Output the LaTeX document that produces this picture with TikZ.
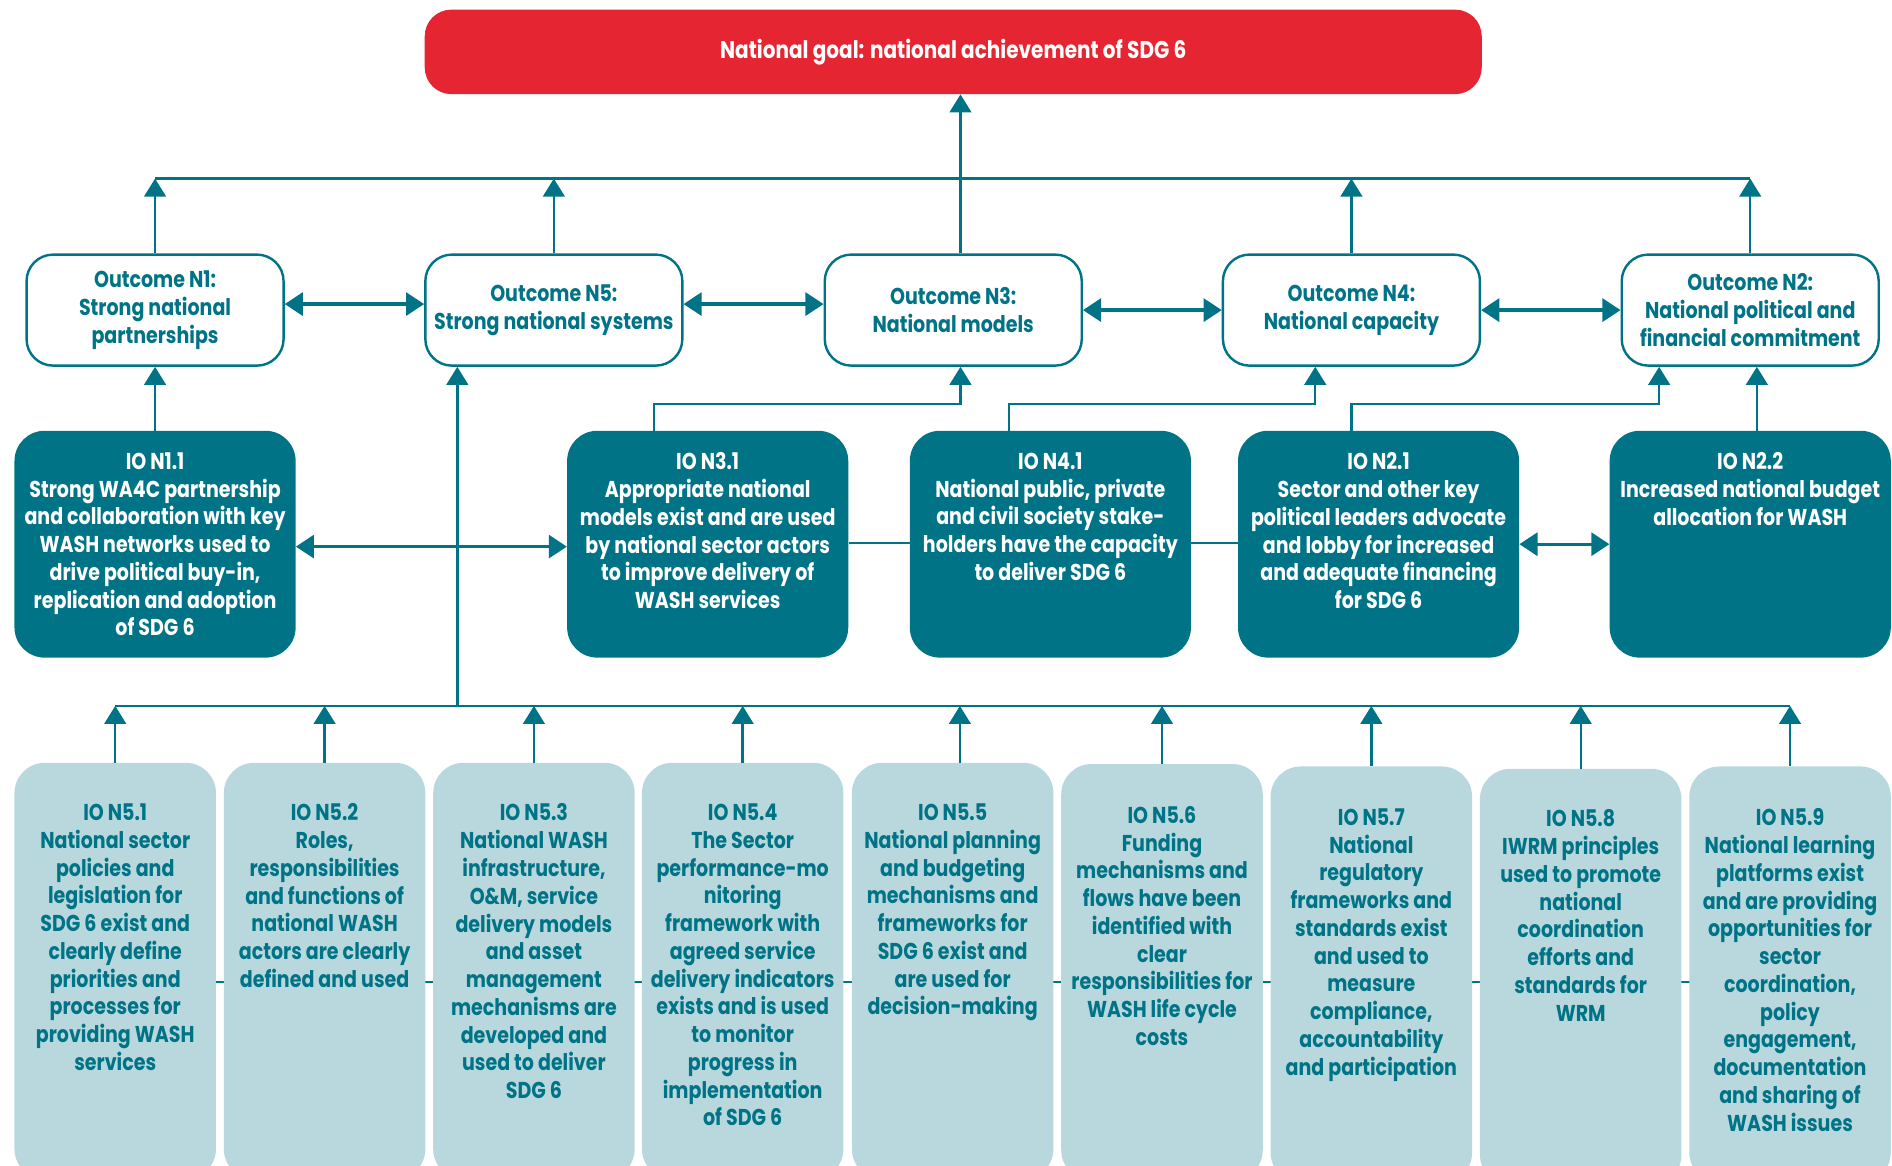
\documentclass[tikz,border=0pt]{standalone}
\usepackage{fontspec}
\setmainfont{Poppins}[FakeStretch=0.83]
\usetikzlibrary{arrows.meta,calc}
\definecolor{teal1}{HTML}{007486}
\definecolor{light1}{HTML}{B9D8DD}
\definecolor{red1}{HTML}{E52632}
\newcommand{\bodyfnt}{\fontsize{19}{23}\selectfont\bfseries}
\newcommand{\goalfnt}{\fontsize{20}{23}\selectfont\bfseries}
\tikzset{
  goalbox/.style={fill=red1, rounded corners=22pt, minimum width=876pt, minimum height=70pt, text=white, font=\goalfnt},
  outbox/.style={draw=teal1, line width=2pt, fill=white, rounded corners=22pt, minimum width=213pt, minimum height=92pt, text=teal1, align=center, font=\bodyfnt, inner sep=0pt},
  iobox/.style={fill=teal1, rounded corners=25pt, minimum width=233pt, minimum height=188pt},
  iotext/.style={text=white, align=center, anchor=north, inner sep=0pt, font=\bodyfnt},
  lbox/.style={fill=light1, rounded corners=25pt, minimum width=167pt, minimum height=345pt, anchor=north},
  ltext/.style={text=teal1, align=center, anchor=north, inner sep=0pt, font=\bodyfnt},
  conn/.style={draw=teal1, line width=2pt},
  arr/.style={conn, -{Triangle[length=15pt,width=18pt]}},
  darr/.style={draw=teal1, line width=2.8pt, {Triangle[length=15pt,width=19pt]}-{Triangle[length=15pt,width=19pt]}}
}
\begin{document}
\begin{tikzpicture}[x=1pt,y=-1pt]
\useasboundingbox (0,0) rectangle (1568,966);
\clip (0,0) rectangle (1568,966);
% goal
\node[goalbox] (goal) at (790,43) {National goal: national achievement of SDG 6};
% outcomes
\node[outbox] (o1) at (128.5,257) {Outcome N1:\\Strong national\\partnerships};
\node[outbox] (o5) at (459,257) {Outcome N5:\\Strong national systems};
\node[outbox] (o3) at (790,257) {Outcome N3:\\National models};
\node[outbox] (o4) at (1120,257) {Outcome N4:\\National capacity};
\node[outbox] (o2) at (1450.5,257) {Outcome N2:\\National political and\\financial commitment};
% top bus
\coordinate (busL) at (128.5,148);
\coordinate (busR) at (1450.5,148);
\draw[conn] (busL) -- (busR);
\draw[arr] (o1.north) -- (o1.north |- busL);
\draw[arr] (o5.north) -- (o5.north |- busL);
\draw[arr] (o4.north) -- (o4.north |- busL);
\draw[arr] (o2.north) -- (o2.north |- busL);
\draw[arr] ([xshift=6pt]o3.north) -- ([xshift=6pt]o3.north |- goal.south);
% outcome double arrows
\draw[darr] ([yshift=5pt]o1.east) -- ([yshift=5pt]o5.west);
\draw[darr] ([yshift=5pt]o5.east) -- ([yshift=5pt]o3.west);
\draw[darr] (o3.east) -- (o4.west);
\draw[darr] (o4.east) -- (o2.west);
% IO row
\node[iobox] (io11) at (128.5,451) {};
\node[iobox] (io31) at (586.5,451) {};
\node[iobox] (io41) at (870.5,451) {};
\node[iobox] (io21) at (1142.5,451) {};
\node[iobox] (io22) at (1450.5,451) {};
\node[iotext] (io11t) at (128.5,375) {IO N1.1\\Strong WA4C partnership\\and collaboration with key\\WASH networks used to\\drive political buy-in,\\replication and adoption\\of SDG 6};
\node[iotext] (io31t) at (586.5,375) {IO N3.1\\Appropriate national\\models exist and are used\\by national sector actors\\to improve delivery of\\WASH services};
\node[iotext] (io41t) at (870.5,375) {IO N4.1\\National public, private\\and civil society stake-\\holders have the capacity\\to deliver SDG 6};
\node[iotext] (io21t) at (1142.5,375) {IO N2.1\\Sector and other key\\political leaders advocate\\and lobby for increased\\and adequate financing\\for SDG 6};
\node[iotext] (io22t) at (1450.5,375) {IO N2.2\\Increased national budget\\allocation for WASH};
% IO to outcomes
\draw[arr] (io11.north) -- (o1.south);
\draw[arr] ([xshift=-44.5pt]io31.north) -- ++(0,-22) -| ([xshift=6pt]o3.south);
\draw[arr] ([xshift=-34.5pt]io41.north) -- ++(0,-22) -| ([xshift=-30pt]o4.south);
\draw[arr] ([xshift=-22.5pt]io21.north) -- ++(0,-22) -| ([xshift=-75.5pt]o2.south);
\draw[arr] ([xshift=5.5pt]io22.north) -- ([xshift=5.5pt]o2.south);
% IO links
\draw[darr] ([yshift=-2pt]io11.east) -- ([yshift=-2pt]io31.west);
\draw[conn] ([yshift=1pt]io31.east) -- ([yshift=1pt]io41.west);
\draw[conn] ([yshift=1pt]io41.east) -- ([yshift=1pt]io21.west);
\draw[darr] (io21.east) -- (io22.west);
% bottom bus
\coordinate (bbL) at (95.5,585);
\coordinate (bbR) at (1483.5,585);
\coordinate (bbN5) at (379,585);
\draw[conn] (bbL) -- (bbR);
\draw[arr] (bbN5) -- ([xshift=-80pt]o5.south);
% line behind bottom boxes
\coordinate (mlL) at (95.5,814);
\coordinate (mlR) at (1483.5,814);
\draw[conn] (mlL) -- (mlR);
% bottom boxes
\node[lbox] (b1) at (95.5,632) {};
\node[lbox] (b2) at (269,632) {};
\node[lbox] (b3) at (442.5,632) {};
\node[lbox] (b4) at (615.5,632) {};
\node[lbox] (b5) at (789.5,632) {};
\node[lbox] (b6) at (963,633) {};
\node[lbox] (b7) at (1136.5,635) {};
\node[lbox] (b8) at (1310,637) {};
\node[lbox] (b9) at (1483.5,635) {};
\foreach \b in {b1,b2,b3,b4,b6,b7,b8,b9}{
  \draw[arr] (\b.north) -- (\b.north |- bbL);
}
\draw[arr] ([xshift=6pt]b5.north) -- ([xshift=6pt]b5.north |- bbL);
\node[ltext] (b1t) at (95.5,666) {IO N5.1\\National sector\\policies and\\legislation for\\SDG 6 exist and\\clearly define\\priorities and\\processes for\\providing WASH\\services};
\node[ltext] (b2t) at (269,666) {IO N5.2\\Roles,\\responsibilities\\and functions of\\national WASH\\actors are clearly\\defined and used};
\node[ltext] (b3t) at (442.5,666) {IO N5.3\\National WASH\\infrastructure,\\O\&M, service\\delivery models\\and asset\\management\\mechanisms are\\developed and\\used to deliver\\SDG 6};
\node[ltext] (b4t) at (615.5,666) {IO N5.4\\The Sector\\performance-mo\\nitoring\\framework with\\agreed service\\delivery indicators\\exists and is used\\to monitor\\progress in\\implementation\\of SDG 6};
\node[ltext] (b5t) at (789.5,666) {IO N5.5\\National planning\\and budgeting\\mechanisms and\\frameworks for\\SDG 6 exist and\\are used for\\decision-making};
\node[ltext] (b6t) at (963,668) {IO N5.6\\Funding\\mechanisms and\\flows have been\\identified with\\clear\\responsibilities for\\WASH life cycle\\costs};
\node[ltext] (b7t) at (1136.5,670) {IO N5.7\\National\\regulatory\\frameworks and\\standards exist\\and used to\\measure\\compliance,\\accountability\\and participation};
\node[ltext] (b8t) at (1310,671) {IO N5.8\\IWRM principles\\used to promote\\national\\coordination\\efforts and\\standards for\\WRM};
\node[ltext] (b9t) at (1483.5,670) {IO N5.9\\National learning\\platforms exist\\and are providing\\opportunities for\\sector\\coordination,\\policy\\engagement,\\documentation\\and sharing of\\WASH issues};
\end{tikzpicture}
\end{document}
